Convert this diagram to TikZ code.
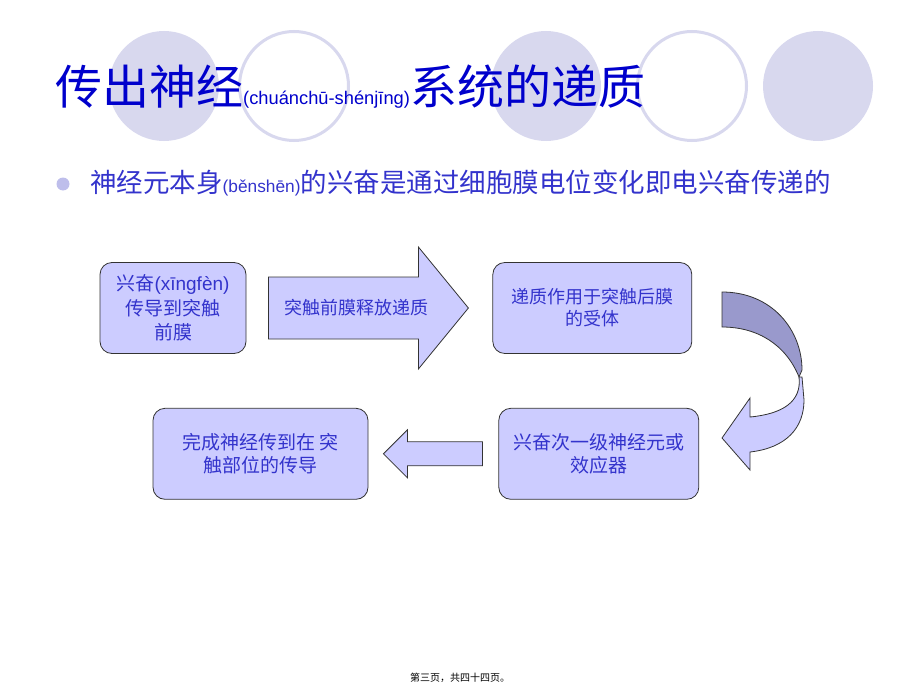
\documentclass[tikz,border=0pt]{standalone}
\usepackage{fontspec}
\setmainfont{Liberation Sans}
\newfontfamily\cjk{Noto Sans CJK SC}
\usetikzlibrary{positioning}
\definecolor{titleblue}{RGB}{0,0,204}
\definecolor{textblue}{RGB}{51,51,204}
\definecolor{ringfill}{RGB}{216,216,238}
\definecolor{boxfill}{RGB}{204,204,255}
\definecolor{backfill}{RGB}{153,153,204}
\definecolor{dotfill}{RGB}{190,190,235}

\begin{document}
\begin{tikzpicture}
[
x=1pt, y=-1pt,
ring-a/.style={circle, fill=ringfill, minimum size=110pt, inner sep=0pt},
ring-b/.style={circle, draw=ringfill, line width=3pt, fill=white, minimum size=109pt, inner sep=0pt},
box-a/.style={rectangle, rounded corners=12pt, draw=black!80, fill=boxfill, line width=0.8pt,
  minimum height=91pt, text=textblue, align=center, font=\cjk\fontsize{19}{23.5}\selectfont},
arrow-a/.style={draw=black!80, fill=boxfill, line width=0.8pt, line join=miter},
text-a/.style={text=textblue, align=center, font=\cjk\fontsize{18}{22}\selectfont}
]
\useasboundingbox (0,0) rectangle (920,690);
% background rings
\foreach \cx in {164,546,818} \node (ring-\cx) [ring-a] at (\cx,86) {};
\foreach \cx in {294,692} \node (ring-\cx) [ring-b] at (\cx,86) {};
% title and bullet line
\node (title) [anchor=base west, inner sep=0pt, text=titleblue, font=\cjk\fontsize{47}{50}\selectfont] at (55,105)
  {传出神经{\rmfamily\fontsize{18.3}{20}\selectfont(chuánchū-shénjīng)}系统的递质};
\node (dot) [circle, fill=dotfill, minimum size=13pt, inner sep=0pt] at (63,184) {};
\node (line-1) [anchor=base west, inner sep=0pt, text=textblue, font=\cjk\fontsize{26.5}{30}\selectfont] at (90,192)
  {神经元本身{\rmfamily\fontsize{17.3}{20}\selectfont(běnshēn)}的兴奋是通过细胞膜电位变化即电兴奋传递的};
% boxes
\node (box-1) [box-a, minimum width=146pt, font=\cjk\fontsize{19}{24.5}\selectfont] at (173,308)
  {兴奋{\rmfamily(xīngfèn)}\\传导到突触\\前膜};
\node (box-2) [box-a, minimum width=199pt, font=\cjk\fontsize{18}{22}\selectfont, right=246pt of box-1]
  {递质作用于突触后膜\\的受体};
\node (box-3) [box-a, minimum width=200pt, below=54pt of box-2, xshift=6.5pt]
  {兴奋次一级神经元或\\效应器};
\node (box-4) [box-a, minimum width=215pt, left=130pt of box-3]
  {完成神经传到在 突\\触部位的传导};
% straight block arrows
\coordinate (arrow-1-tail) at ([xshift=22pt]box-1.east);
\coordinate (arrow-1-tip)  at ([xshift=-24pt]box-2.west);
\draw [arrow-a] (arrow-1-tail) ++(0,-31) -- ++(150,0) -- ++(0,-30) -- (arrow-1-tip)
  -- ++(-50,61) -- ++(0,-30) -- ++(-150,0) -- cycle;
\node (arrow-1-text) [text-a] at (356,308) {突触前膜释放递质};
\coordinate (arrow-2-tip) at ([xshift=15pt]box-4.east);
\draw [arrow-a] (arrow-2-tip) -- ++(24,-24) -- ++(0,12) -- ++(75,0) -- ++(0,24)
  -- ++(-75,0) -- ++(0,12) -- cycle;
% curved arrow, front and back
\draw [arrow-a] (799,377) .. controls (802,402) and (782,414) .. (750,417)
  -- (750,398) -- (722,438) -- (750,470) -- (750,452)
  .. controls (786,448) and (804,428) .. (804,400) -- (802,377) -- cycle;
\draw [arrow-a, fill=backfill] (722,292) .. controls (772,292) and (802,330) .. (802,370)
  -- (799,377) .. controls (786,345) and (758,327) .. (722,327) -- cycle;
% footer
\node (footer) [font=\cjk\fontsize{10}{12}\selectfont] at (460,677.5) {第三页，共四十四页。};
\end{tikzpicture}
\end{document}
